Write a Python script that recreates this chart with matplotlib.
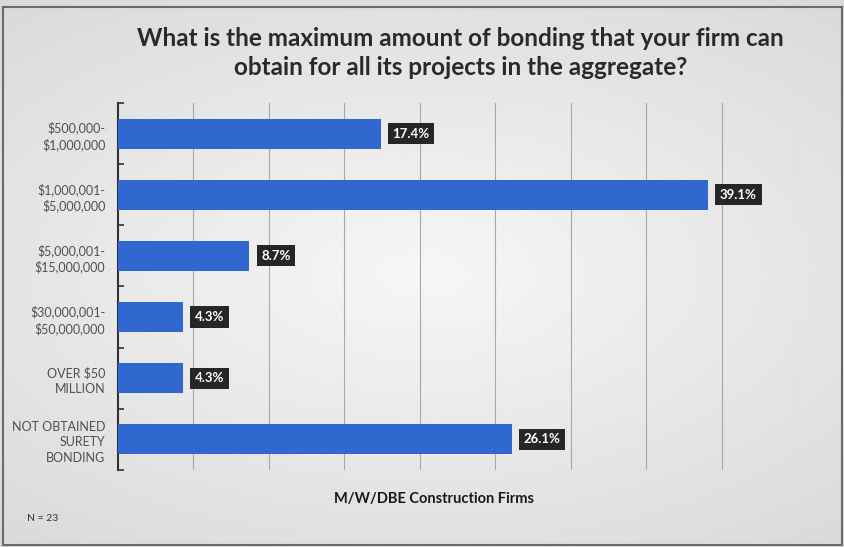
import numpy as np
import matplotlib.pyplot as plt
from matplotlib.patches import Rectangle

categories = [
    "$500,000-\n$1,000,000",
    "$1,000,001-\n$5,000,000",
    "$5,000,001-\n$15,000,000",
    "$30,000,001-\n$50,000,000",
    "OVER $50\nMILLION",
    "NOT OBTAINED\nSURETY\nBONDING",
]
percents = [17.4, 39.1, 8.7, 4.3, 4.3, 26.1]
grid_ticks = [5, 10, 15, 20, 25, 30, 35, 40, 45]

plt.rcParams['font.family'] = ['Lato', 'DejaVu Sans']

fig = plt.figure(figsize=(8.45, 5.47), dpi=100)

# soft grey backdrop, lighter toward the middle
bg = fig.add_axes([0, 0, 1, 1], zorder=-10)
yy, xx = np.mgrid[-1:1:300j, -1:1:400j]
shade = 0.965 - 0.08 * np.clip(np.sqrt((xx * 0.9) ** 2 + (yy * 1.1) ** 2), 0, 1.4)
bg.imshow(shade, cmap='gray', vmin=0, vmax=1, aspect='auto', extent=[0, 1, 0, 1])
bg.add_patch(Rectangle((0.003, 0.003), 0.994, 0.985, fill=False,
                       edgecolor='#6a6a6a', linewidth=1.5))
bg.set_xlim(0, 1)
bg.set_ylim(0, 1)
bg.axis('off')

ax = fig.add_axes([0.1396, 0.1408, 0.8036, 0.671])
ax.patch.set_alpha(0)

y = np.arange(len(categories))
ax.barh(y, percents, height=0.49, color='#3068cf', zorder=3)

for yi, p in zip(y, percents):
    ax.text(p + 0.8, yi, f"{p}%", va='center', ha='left', color='white',
            fontsize=9.5, fontweight='bold', zorder=5,
            bbox=dict(boxstyle='square,pad=0.35', facecolor='#262626',
                      edgecolor='none'))

ax.set_xlim(0, 45)
ax.set_ylim(len(categories) - 0.5, -0.5)
ax.set_xticks(grid_ticks)
ax.set_xticklabels([])
ax.tick_params(axis='x', length=0)
ax.grid(axis='x', color='#a8a8a8', linewidth=0.8, zorder=0)

ax.set_yticks(y)
ax.set_yticklabels(categories, fontsize=9, color='#505050', linespacing=1.35)
ax.tick_params(axis='y', length=0, pad=9)
ax.set_yticks(np.arange(-0.5, len(categories)), minor=True)
ax.tick_params(axis='y', which='minor', direction='in', length=4,
               width=1.2, color='#333333')

for side in ['top', 'right', 'bottom']:
    ax.spines[side].set_visible(False)
ax.spines['left'].set_color('#333333')
ax.spines['left'].set_linewidth(1.5)

fig.text(0.545, 0.903, "What is the maximum amount of bonding that your firm can\n"
         "obtain for all its projects in the aggregate?",
         ha='center', va='center', fontsize=17.5, fontweight='bold',
         color='#2a2a2a', linespacing=1.3)
fig.text(0.514, 0.087, "M/W/DBE Construction Firms", ha='center', va='center',
         fontsize=10.5, fontweight='bold', color='#1a1a1a')
fig.text(0.032, 0.053, "N = 23", ha='left', va='center', fontsize=7.5,
         color='#333333')

fig.savefig('out.png', dpi=100)
